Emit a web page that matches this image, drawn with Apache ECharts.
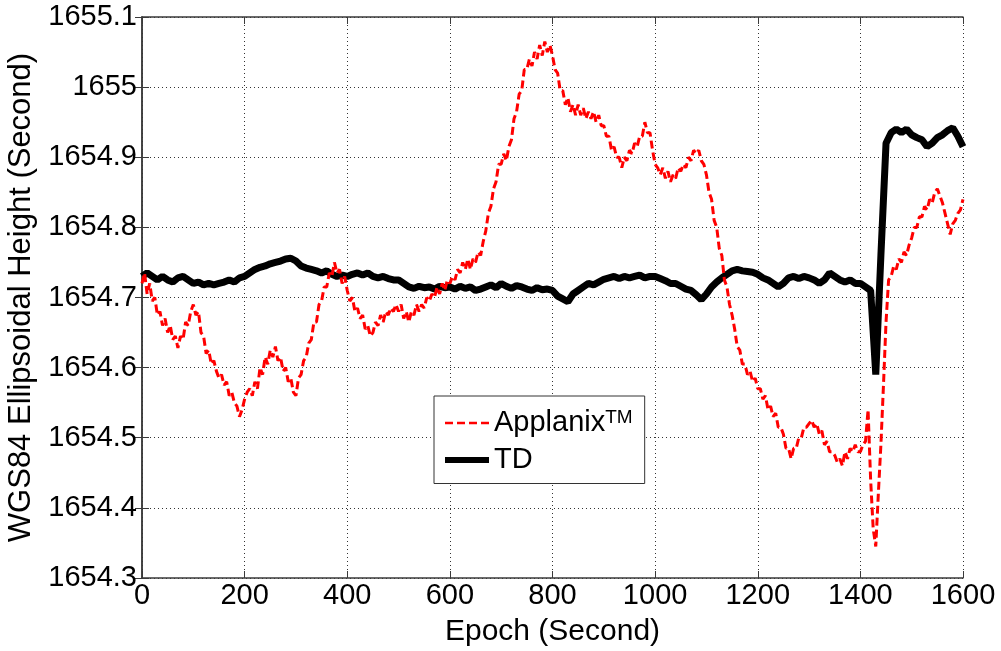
<!DOCTYPE html>
<html>
<head>
<meta charset="utf-8">
<script src="https://cdn.jsdelivr.net/npm/echarts@6/dist/echarts.min.js"></script>
<style>html,body{margin:0;padding:0;background:#fff}#c{width:1001px;height:651px}</style>
</head>
<body>
<div id="c"></div>
<script>
// Applanix epochs every 5 s from 0 to 1600
const applanixStep = 5;
const applanixHeight = [
1654.72,1654.735,1654.705,1654.72,1654.695,1654.70,1654.675,1654.68,1654.66,1654.67,
1654.65,1654.66,1654.64,1654.645,1654.628,1654.645,1654.64,1654.665,1654.66,1654.68,
1654.69,1654.675,1654.68,1654.65,1654.645,1654.62,1654.625,1654.605,1654.61,1654.595,
1654.585,1654.59,1654.575,1654.58,1654.56,1654.565,1654.55,1654.545,1654.53,1654.54,
1654.555,1654.565,1654.57,1654.56,1654.58,1654.57,1654.60,1654.59,1654.615,1654.605,
1654.625,1654.615,1654.63,1654.61,1654.615,1654.595,1654.60,1654.58,1654.585,1654.565,
1654.56,1654.585,1654.59,1654.61,1654.615,1654.635,1654.64,1654.665,1654.665,1654.69,
1654.695,1654.715,1654.715,1654.735,1654.73,1654.75,1654.735,1654.74,1654.72,1654.73,
1654.71,1654.695,1654.70,1654.68,1654.685,1654.67,1654.675,1654.655,1654.66,1654.645,
1654.65,1654.665,1654.66,1654.675,1654.665,1654.68,1654.675,1654.685,1654.68,1654.69,
1654.68,1654.69,1654.67,1654.68,1654.665,1654.68,1654.675,1654.69,1654.68,1654.69,
1654.685,1654.70,1654.695,1654.705,1654.70,1654.715,1654.705,1654.72,1654.71,1654.725,
1654.72,1654.73,1654.725,1654.74,1654.735,1654.75,1654.74,1654.755,1654.74,1654.755,
1654.75,1654.765,1654.76,1654.78,1654.795,1654.82,1654.83,1654.855,1654.865,1654.89,
1654.89,1654.905,1654.895,1654.915,1654.925,1654.955,1654.965,1654.99,1654.995,1655.025,
1655.025,1655.04,1655.03,1655.05,1655.04,1655.06,1655.045,1655.065,1655.05,1655.06,
1655.045,1655.025,1655.02,1654.995,1654.995,1654.975,1654.985,1654.965,1654.975,1654.96,
1654.975,1654.96,1654.97,1654.955,1654.965,1654.955,1654.965,1654.95,1654.96,1654.945,
1654.945,1654.93,1654.93,1654.91,1654.915,1654.90,1654.90,1654.885,1654.90,1654.895,
1654.91,1654.905,1654.92,1654.915,1654.93,1654.93,1654.95,1654.935,1654.935,1654.91,
1654.89,1654.885,1654.875,1654.885,1654.87,1654.88,1654.865,1654.875,1654.87,1654.885,
1654.88,1654.89,1654.885,1654.90,1654.895,1654.91,1654.905,1654.91,1654.895,1654.89,
1654.875,1654.85,1654.84,1654.81,1654.80,1654.77,1654.76,1654.725,1654.715,1654.69,
1654.675,1654.655,1654.63,1654.625,1654.605,1654.605,1654.59,1654.595,1654.58,1654.585,
1654.57,1654.57,1654.555,1654.56,1654.54,1654.545,1654.53,1654.535,1654.515,1654.515,
1654.505,1654.485,1654.485,1654.47,1654.485,1654.485,1654.50,1654.50,1654.515,1654.515,
1654.52,1654.525,1654.515,1654.52,1654.505,1654.51,1654.49,1654.495,1654.48,1654.48,
1654.475,1654.465,1654.47,1654.46,1654.48,1654.47,1654.485,1654.48,1654.49,1654.48,
1654.48,1654.49,1654.495,1654.54,1654.44,1654.37,1654.345,1654.42,1654.49,1654.575,
1654.665,1654.725,1654.73,1654.745,1654.74,1654.755,1654.75,1654.765,1654.76,1654.775,
1654.785,1654.80,1654.80,1654.815,1654.815,1654.83,1654.825,1654.84,1654.835,1654.85,
1654.855,1654.845,1654.835,1654.82,1654.805,1654.79,1654.805,1654.81,1654.82,1654.825,
1654.84
];
// TD epochs every 10 s from 0 to 1600
const tdStep = 10;
const tdHeight = [
1654.73,1654.735,1654.73,1654.725,1654.73,1654.725,1654.722,1654.728,1654.73,1654.725,
1654.72,1654.722,1654.718,1654.72,1654.718,1654.72,1654.722,1654.725,1654.722,1654.728,
1654.73,1654.735,1654.74,1654.743,1654.745,1654.748,1654.75,1654.752,1654.755,1654.756,
1654.752,1654.745,1654.742,1654.74,1654.738,1654.735,1654.738,1654.733,1654.73,1654.732,
1654.73,1654.733,1654.735,1654.732,1654.735,1654.73,1654.728,1654.73,1654.727,1654.725,
1654.725,1654.72,1654.715,1654.713,1654.716,1654.714,1654.715,1654.712,1654.716,1654.714,
1654.715,1654.712,1654.716,1654.713,1654.715,1654.71,1654.712,1654.715,1654.718,1654.714,
1654.72,1654.716,1654.713,1654.717,1654.715,1654.712,1654.71,1654.714,1654.711,1654.712,
1654.71,1654.702,1654.698,1654.694,1654.705,1654.71,1654.715,1654.72,1654.718,1654.722,
1654.726,1654.728,1654.73,1654.727,1654.73,1654.728,1654.73,1654.732,1654.728,1654.73,
1654.73,1654.727,1654.724,1654.72,1654.72,1654.716,1654.712,1654.71,1654.704,1654.697,
1654.705,1654.715,1654.722,1654.728,1654.733,1654.738,1654.74,1654.738,1654.737,1654.736,
1654.733,1654.728,1654.725,1654.72,1654.715,1654.72,1654.728,1654.73,1654.727,1654.73,
1654.728,1654.725,1654.72,1654.725,1654.735,1654.73,1654.725,1654.722,1654.725,1654.72,
1654.72,1654.715,1654.71,1654.59,1654.76,1654.92,1654.935,1654.94,1654.935,1654.94,
1654.932,1654.928,1654.925,1654.915,1654.92,1654.928,1654.932,1654.938,1654.942,1654.93,
1654.915
];
const xTicks = {min: 0, max: 1600, interval: 200};
const yTicks = {min: 1654.3, max: 1655.1, interval: 0.1};

const redPts = applanixHeight.map((v, i) => [i * applanixStep, v]);
const blackPts = tdHeight.map((v, i) => [i * tdStep, v]);

const font = 'Liberation Sans, Arial, Helvetica, sans-serif';
const chart = echarts.init(document.getElementById('c'), null, {renderer: 'canvas'});
const frameColor = '#3a3a3a';
chart.setOption({
  animation: false,
  backgroundColor: '#fff',
  grid: {left: 142, right: 38, top: 17, bottom: 73, containLabel: false, outerBoundsMode: 'none'},
  xAxis: [{
    type: 'value', min: xTicks.min, max: xTicks.max, interval: xTicks.interval,
    name: 'Epoch (Second)', nameLocation: 'middle', nameGap: 39,
    nameTextStyle: {fontFamily: font, fontSize: 30, color: '#000'},
    axisLine: {show: true, lineStyle: {color: frameColor, width: 1.5}},
    axisTick: {show: true, inside: true, length: 7, lineStyle: {color: frameColor}},
    axisLabel: {fontFamily: font, fontSize: 29, color: '#000', margin: 3,
      formatter: v => String(v)},
    splitLine: {show: true, lineStyle: {color: '#333', type: [1, 3], width: 1}}
  }, {
    type: 'value', position: 'top', min: xTicks.min, max: xTicks.max, interval: xTicks.interval,
    axisLine: {show: true, lineStyle: {color: frameColor, width: 1.5}},
    axisTick: {show: true, inside: true, length: 7, lineStyle: {color: frameColor}},
    axisLabel: {show: false}, splitLine: {show: false}
  }],
  yAxis: [{
    type: 'value', min: yTicks.min, max: yTicks.max, interval: yTicks.interval,
    name: 'WGS84 Ellipsoidal Height (Second)', nameLocation: 'middle', nameGap: 96,
    nameTextStyle: {fontFamily: font, fontSize: 31, color: '#000'},
    axisLine: {show: true, lineStyle: {color: frameColor, width: 1.5}},
    axisTick: {show: true, inside: true, length: 7, lineStyle: {color: frameColor}},
    axisLabel: {fontFamily: font, fontSize: 29, color: '#000', margin: 5,
      formatter: v => String(parseFloat(v.toFixed(1)))},
    splitLine: {show: true, lineStyle: {color: '#333', type: [1, 3], width: 1}}
  }, {
    type: 'value', position: 'right', min: yTicks.min, max: yTicks.max, interval: yTicks.interval,
    axisLine: {show: true, lineStyle: {color: frameColor, width: 1.5}},
    axisTick: {show: true, inside: true, length: 7, lineStyle: {color: frameColor}},
    axisLabel: {show: false}, splitLine: {show: false}
  }],
  legend: {
    orient: 'vertical', left: 434, top: 396,
    backgroundColor: '#fff', borderColor: '#333', borderWidth: 1,
    padding: [12, 12, 9, 8], itemWidth: 44, itemHeight: 14, itemGap: 8,
    itemStyle: {opacity: 0},
    textStyle: {fontFamily: font, fontSize: 29, color: '#000',
      rich: {
        n: {fontFamily: font, fontSize: 29, color: '#000', lineHeight: 30},
        sup: {fontFamily: font, fontSize: 19, color: '#000', verticalAlign: 'top',
              lineHeight: 19, padding: [0, 0, 10, 0]},
        t: {fontFamily: font, fontSize: 29, color: '#000', lineHeight: 30}
      }},
    formatter: name => name === 'Applanix' ? '{n|Applanix}{sup|TM}' : '{t|' + name + '}',
    data: [
      {name: 'Applanix', lineStyle: {width: 2.5}},
      {name: 'TD', lineStyle: {width: 6}}
    ]
  },
  series: [{
    name: 'Applanix', type: 'line', data: redPts, showSymbol: false, symbol: 'none',
    z: 3, lineStyle: {color: '#ff0000', width: 3, type: [8, 4]}, itemStyle: {color: '#ff0000'}
  }, {
    name: 'TD', type: 'line', data: blackPts, showSymbol: false, symbol: 'none',
    z: 2, lineStyle: {color: '#000', width: 7}, itemStyle: {color: '#000'}
  }]
});
</script>
</body>
</html>
